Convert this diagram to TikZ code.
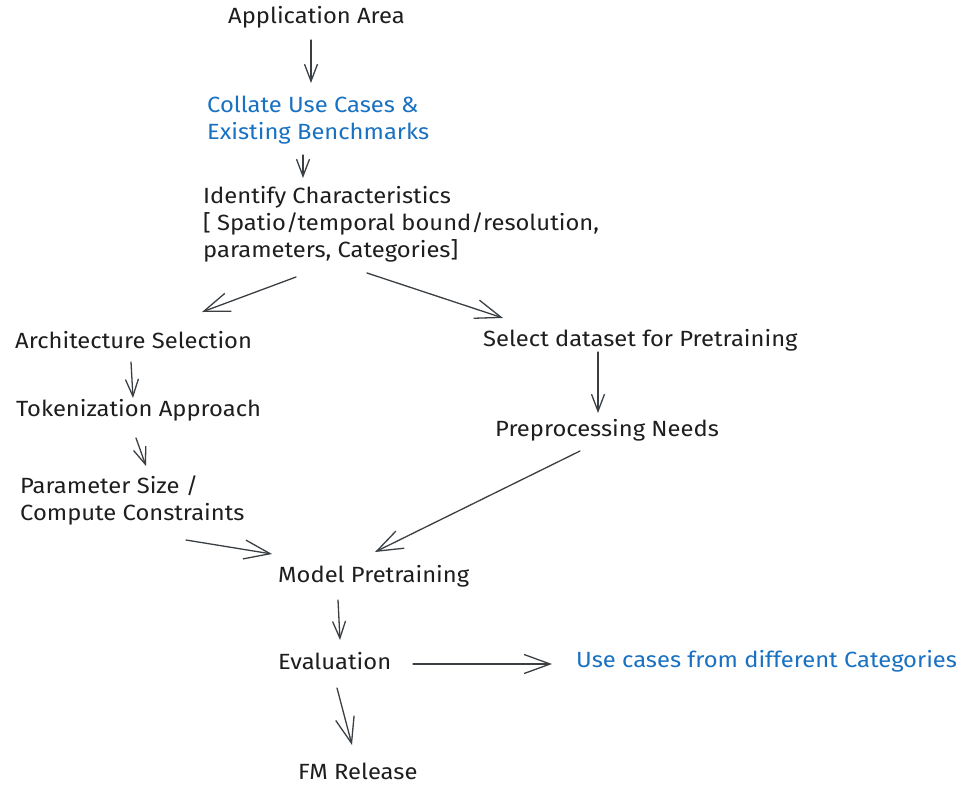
\documentclass[tikz,border=0pt]{standalone}
\usepackage{fontspec}
\setmainfont{Fira Sans}[FakeStretch=1.08]
\usetikzlibrary{arrows.meta,calc}
\definecolor{ink}{HTML}{1E1E1E}
\definecolor{strokegray}{HTML}{3A3F44}
\definecolor{noteblue}{HTML}{1971C2}
\tikzset{
  lbl/.style={anchor=west, inner sep=0pt, text=ink, align=left,
              font=\fontsize{22}{27}\selectfont},
  note/.style={lbl, text=noteblue},
  arr/.style={draw=strokegray, line width=1.3pt, line cap=round,
              -{Straight Barb[length=17pt,width=13pt,line width=1.3pt]}},
  bigarr/.style={arr, -{Straight Barb[length=26pt,width=19pt,line width=1.3pt]}}
}
\begin{document}
\begin{tikzpicture}[x=1pt,y=-1pt]
\useasboundingbox[fill=white] (0,0) rectangle (971,785);

% labels, placed by their left edge
\node[lbl]  (app)   at (228,17)  {Application Area};
\node[note] (coll)  at (207,120) {Collate Use Cases \&\\Existing Benchmarks};
\node[lbl]  (ident) at (203,224) {Identify Characteristics\\{[} Spatio/temporal bound/resolution,\\parameters, Categories{]}};
\node[lbl]  (arch)  at (15,340)  {Architecture Selection};
\node[lbl]  (sel)   at (483,340) {Select dataset for Pretraining};
\node[lbl]  (tok)   at (16,410)  {Tokenization Approach};
\node[lbl]  (prep)  at (495,430) {Preprocessing Needs};
\node[lbl]  (param) at (20,500)  {Parameter Size /\\Compute Constraints};
\node[lbl]  (model) at (278,576) {Model Pretraining};
\node[lbl]  (eval)  at (278,661) {Evaluation};
\node[note] (usec)  at (576,661) {Use cases from different Categories};
\node[lbl]  (fm)    at (298,771) {FM Release};

% connectors, each end given relative to its node's west anchor
\draw[arr] ($(app.west)+(83,23)$)    -- ($(coll.west)+(104,-37)$);
\draw[arr] ($(coll.west)+(96,35)$)   -- ($(ident.west)+(100,-46)$);
\draw[bigarr] ($(ident.west)+(93,53)$)  -- ($(arch.west)+(187,-28)$);
\draw[bigarr] ($(ident.west)+(164,49)$) -- ($(sel.west)+(20,-22)$);
\draw[arr] ($(arch.west)+(116,22)$)  -- ($(tok.west)+(117,-12)$);
\draw[arr] ($(tok.west)+(120,28)$)   -- ($(param.west)+(126,-34)$);
\draw[arr] ($(sel.west)+(115,12)$)   -- ($(prep.west)+(103,-17)$);
\draw[bigarr] ($(param.west)+(166,40)$) -- ($(model.west)+(-6,-22)$);
\draw[bigarr] ($(prep.west)+(85,21)$)   -- ($(model.west)+(97,-24)$);
\draw[arr] ($(model.west)+(60,24)$)  -- ($(eval.west)+(62,-21)$);
\draw[bigarr] ($(eval.west)+(135,3)$)   -- ($(usec.west)+(-24,3)$);
\draw[bigarr] ($(eval.west)+(59,27)$)   -- ($(fm.west)+(54,-26)$);
\end{tikzpicture}
\end{document}
